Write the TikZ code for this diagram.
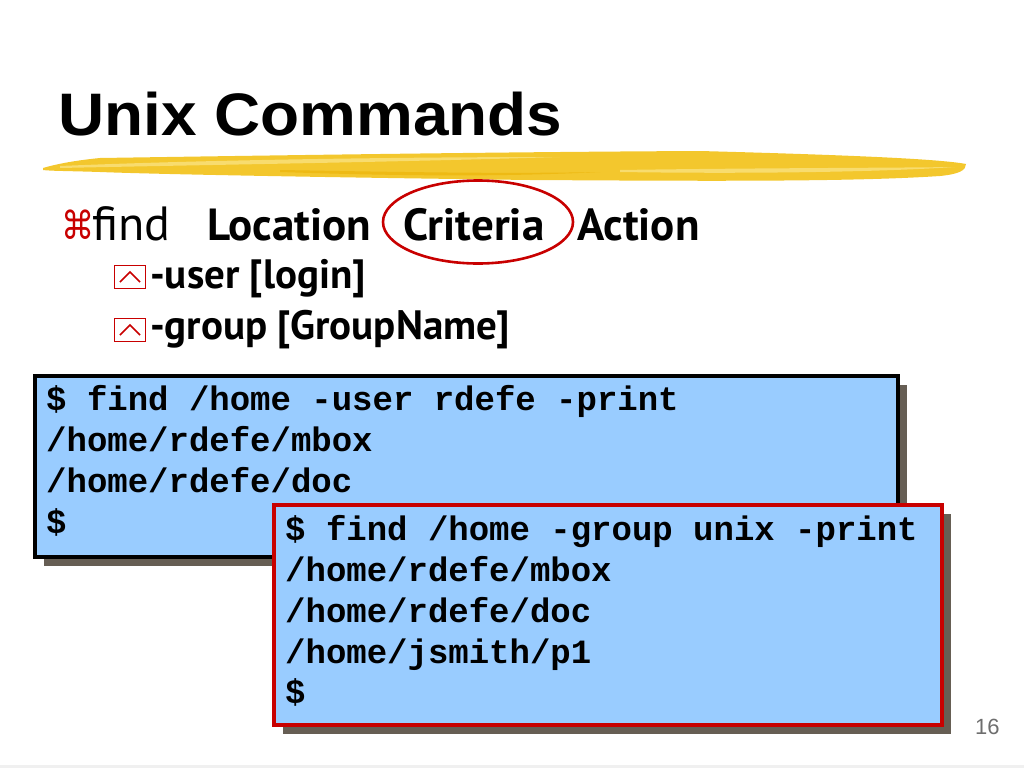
\documentclass[tikz,border=0pt]{standalone}
\usepackage{fontspec}
\setmainfont{Liberation Sans}
\setmonofont{Liberation Mono}
\newfontfamily\ptsans{PT Sans}
\newfontfamily\symfont{DejaVu Sans}
\usepackage{tikz}
\usetikzlibrary{%
  calc,%
  positioning,%
  shapes.geometric,%
  shadows}
\definecolor{brushyellow}{RGB}{243,199,45}
\definecolor{brushlight}{RGB}{248,220,110}
\definecolor{brushdark}{RGB}{238,186,20}
\definecolor{slidered}{RGB}{200,0,0}
\definecolor{boxblue}{RGB}{153,204,255}
\definecolor{shadowgray}{RGB}{102,94,84}
\definecolor{numgray}{RGB}{110,110,110}

\begin{document}
\begin{tikzpicture}[x=1pt,y=-1pt,
  txt/.style={anchor=base west, inner sep=0pt},
  bullettxt/.style={txt, font=\ptsans\bfseries\fontsize{45}{50}\selectfont},
  subtxt/.style={txt, font=\ptsans\bfseries\fontsize{41}{46}\selectfont},
  codeline/.style={txt, font=\ttfamily\bfseries\fontsize{34}{41}\selectfont},
  codebox/.style={rectangle, anchor=north west, fill=boxblue, line width=4pt,
    drop shadow={shadow xshift=9pt, shadow yshift=-9pt, fill=shadowgray, opacity=1}},
  iconbox/.style={rectangle, draw=slidered, line width=1.6pt, minimum width=31pt, minimum height=23pt, inner sep=0pt},
  caret/.style={slidered, line width=1.6pt}]
\useasboundingbox (0,0) rectangle (1024,768);
% titre et trait jaune
\node (T) at (58,135) [txt, font=\bfseries\addfontfeatures{FakeStretch=1.065}\fontsize{60}{72}\selectfont] {Unix Commands};
\fill[brushyellow] (43,168) .. controls (60,163) and (80,160) .. (100,158)
  .. controls (300,155) and (500,152) .. (700,151)
  .. controls (850,155) and (940,159) .. (966,164)
  .. controls (966,170) and (960,174) .. (940,176)
  .. controls (850,182) and (700,181) .. (530,180)
  .. controls (300,177) and (150,174) .. (100,172)
  .. controls (70,171) and (50,171) .. (43,170) -- cycle;
\fill[brushlight] (60,166) .. controls (200,160) and (400,157) .. (560,157)
  .. controls (400,162) and (200,165) .. (60,168) -- cycle;
\fill[brushdark] (280,170) .. controls (400,172) and (500,174) .. (600,172)
  .. controls (500,177) and (400,176) .. (280,172) -- cycle;
\fill[brushlight] (620,170) .. controls (750,168) and (880,168) .. (955,167)
  .. controls (880,172) and (750,174) .. (620,172) -- cycle;
% premier niveau
\node (K) at (61,239) [txt, font=\symfont\addfontfeatures{FakeStretch=0.85}\fontsize{39}{42}\selectfont, text=slidered] {⌘};
\node (F) at (92,240) [txt, font=\ptsans\fontsize{48}{52}\selectfont] {find};
\node (L) at (207,240) [bullettxt] {Location};
\node (C) at (403,240) [bullettxt] {Criteria};
\node (A) at (577,240) [bullettxt] {Action};
\node (E) at (478,222) [ellipse, draw=slidered, line width=2.6pt, minimum width=190pt, minimum height=83pt] {};
% second niveau
\node (I1) at (130,277) [iconbox] {};
\draw[caret] ([xshift=-10pt,yshift=-5pt]I1.center) -- ([yshift=5pt]I1.center) -- ([xshift=10pt,yshift=-5pt]I1.center);
\node (U) at (150,288) [subtxt] {-user [login]};
\node (I2) at (130,330) [iconbox] {};
\draw[caret] ([xshift=-10pt,yshift=-5pt]I2.center) -- ([yshift=5pt]I2.center) -- ([xshift=10pt,yshift=-5pt]I2.center);
\node (G) at (150,339) [subtxt] {-group [GroupName]};
% premier terminal
\node (B1) at (33,374) [codebox, draw=black, minimum width=863pt, minimum height=181pt] {};
\node (P1) at (46,410) [codeline] {\$ find /home -user rdefe -print};
\node (P2) at (46,451) [codeline] {/home/rdefe/mbox};
\node (P3) at (46,492) [codeline] {/home/rdefe/doc};
\node (P4) at (46,533) [codeline] {\$};
% second terminal
\node (B2) at (272,503) [codebox, draw=slidered, minimum width=668pt, minimum height=220pt] {};
\node (Q1) at (285,540) [codeline] {\$ find /home -group unix -print};
\node (Q2) at (285,581) [codeline] {/home/rdefe/mbox};
\node (Q3) at (285,622) [codeline] {/home/rdefe/doc};
\node (Q4) at (285,663) [codeline] {/home/jsmith/p1};
\node (Q5) at (285,703) [codeline] {\$};
% numero de page
\node (N) at (975,734) [txt, font=\fontsize{22}{24}\selectfont, text=numgray] {16};
\fill[black!6] (0,765) rectangle (1024,768);
\end{tikzpicture}
\end{document}
